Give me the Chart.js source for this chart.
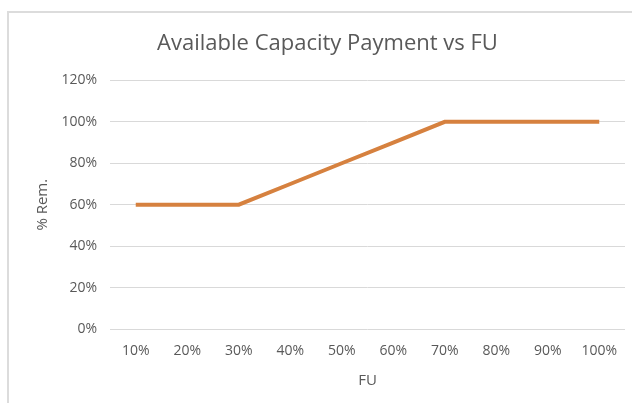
<!DOCTYPE html>
<html>
<head>
<meta charset="utf-8">
<script src="https://cdn.jsdelivr.net/npm/chart.js@4/dist/chart.umd.min.js"></script>
<style>
  html, body { margin: 0; padding: 0; background: #fff; }
  #wrap { position: relative; width: 632px; height: 403px; }
</style>
</head>
<body>
<div id="wrap"><canvas id="chart"></canvas></div>
<script>
const fuLabels = ['10%', '20%', '30%', '40%', '50%', '60%', '70%', '80%', '90%', '100%'];
const remValues = [60, 60, 60, 70, 80, 90, 100, 100, 100, 100];
const yTicks = { min: 0, max: 120, step: 20 };

const textColor = '#595959';
const fontFamily = '"Open Sans", Lato, sans-serif';

// frame lines (left + top) like the screenshot's border
const framePlugin = {
    id: 'frame',
    beforeDraw: function(chart) {
        const c = chart.ctx;
        c.save();
        c.strokeStyle = '#dcdcdc';
        c.lineWidth = 2;
        c.beginPath();
        c.moveTo(8, 403);
        c.lineTo(8, 12);
        c.lineTo(632, 12);
        c.stroke();
        c.restore();
    }
};

const ctx = document.getElementById('chart').getContext('2d');
new Chart(ctx, {
    type: 'line',
    data: {
        labels: fuLabels,
        datasets: [{
            label: '% Rem.',
            data: remValues,
            borderColor: '#D6813F',
            borderWidth: 4,
            pointRadius: 0,
            tension: 0,
            fill: false
        }]
    },
    options: {
        responsive: true,
        maintainAspectRatio: false,
        animation: false,
        layout: { padding: { left: 30, right: 7, top: 20, bottom: 10 } },
        plugins: {
            legend: { display: false },
            tooltip: { enabled: false },
            title: {
                display: true,
                text: 'Available Capacity Payment vs FU',
                color: textColor,
                font: { family: fontFamily, size: 22, weight: 'normal' },
                padding: { top: 11, bottom: 23 }
            }
        },
        scales: {
            x: {
                offset: true,
                grid: { display: false, drawTicks: false },
                border: { display: false },
                ticks: {
                    color: textColor,
                    font: { family: fontFamily, size: 14 },
                    padding: 14,
                    maxRotation: 0
                },
                title: {
                    display: true,
                    text: 'FU',
                    color: textColor,
                    font: { family: fontFamily, size: 15 },
                    padding: { top: 0, bottom: 3 }
                },
                afterFit: function(s) { s.height = 64; }
            },
            y: {
                min: yTicks.min,
                max: yTicks.max,
                grid: { color: '#d9d9d9', lineWidth: 1, drawTicks: false },
                border: { display: false },
                ticks: {
                    stepSize: yTicks.step,
                    color: textColor,
                    font: { family: fontFamily, size: 14 },
                    padding: 13,
                    callback: function(v) { return v + '%'; }
                },
                title: {
                    display: true,
                    text: '% Rem.',
                    color: textColor,
                    font: { family: fontFamily, size: 15 },
                    padding: { top: 4, bottom: 0 }
                },
                afterFit: function(s) { s.width = 80; }
            }
        }
    },
    plugins: [framePlugin]
});
</script>
</body>
</html>
